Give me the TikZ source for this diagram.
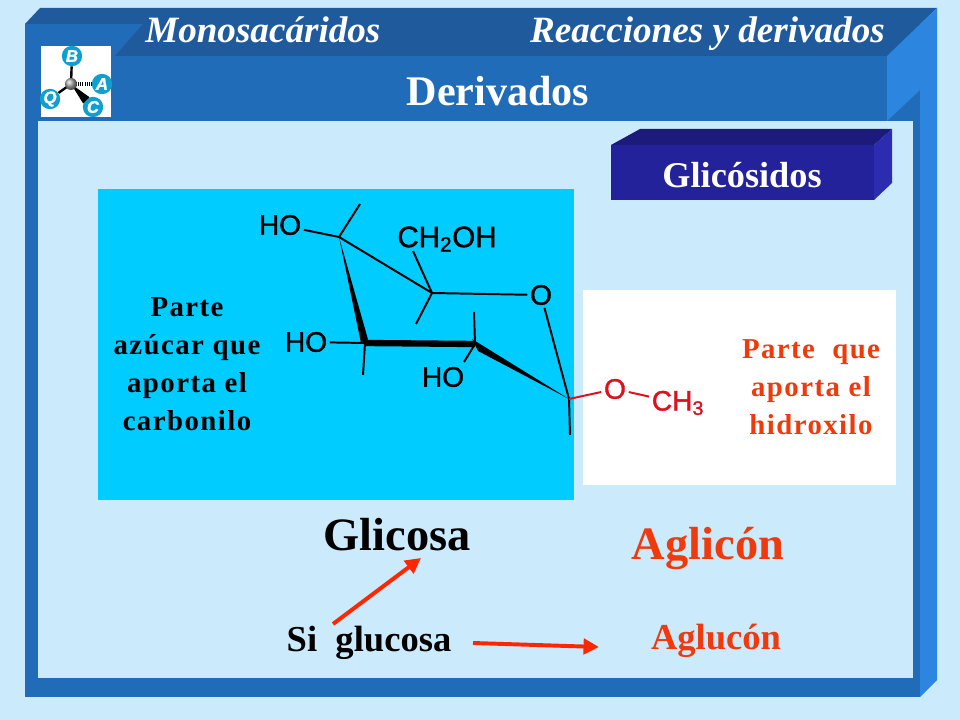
\documentclass[tikz,border=0pt]{standalone}
\usepackage{fontspec}
\setmainfont{Liberation Serif}
\newfontfamily\chemfont[FakeBold=1.3]{Liberation Sans}
\newfontfamily\notefont[LetterSpace=5]{Liberation Serif}
\usetikzlibrary{arrows.meta}
\definecolor{pagebg}{HTML}{CBEBFD}
\definecolor{frontblue}{HTML}{206CB8}
\definecolor{darkblue}{HTML}{1F5A9C}
\definecolor{liteblue}{HTML}{2C86E0}
\definecolor{boxfront}{HTML}{23229A}
\definecolor{boxtop}{HTML}{1C1A7A}
\definecolor{boxside}{HTML}{2C2CB0}
\definecolor{sugarbg}{HTML}{00CCFF}
\definecolor{ballblue}{HTML}{10A0D0}
\definecolor{redlabel}{HTML}{EE3A0C}
\definecolor{redchem}{HTML}{DD1020}
\tikzset{
  title/.style={font=\fontsize{26.4}{26.4}\selectfont\bfseries\itshape,text=white,inner sep=0pt},
  heading/.style={font=\fontsize{30}{30}\selectfont\bfseries,text=white,inner sep=0pt},
  note/.style={font=\fontsize{20.5}{27}\selectfont\notefont\bfseries,align=center,inner sep=0pt},
  big/.style={font=\fontsize{33}{33}\selectfont\bfseries,inner sep=0pt,anchor=base},
  mid/.style={font=\fontsize{26}{26}\selectfont\bfseries,inner sep=0pt,anchor=base},
  chem/.style={font=\fontsize{20}{20}\selectfont\chemfont,inner sep=0pt,outer sep=2pt},
  ball/.style={circle,fill=ballblue,minimum size=14.5pt,inner sep=0pt,text=white,font=\fontsize{12}{12}\selectfont\chemfont\bfseries\itshape},
  bond/.style={line width=1.4pt},
  redarrow/.style={draw=red!70!orange,line width=2.8pt,-{Triangle[length=11pt,width=11pt]}}
}
\begin{document}
\begin{tikzpicture}[x=0.025cm,y=-0.025cm]
\useasboundingbox (0,0) rectangle (960,720);
\fill[pagebg] (0,0) rectangle (960,720);

% frame
\fill[frontblue] (25,24) -- (920,24) -- (920,697) -- (25,697) -- cycle;
\fill[darkblue] (25,24) -- (40,8) -- (937,8) -- (887,56) -- (115,56) -- (143,24) -- cycle;
\fill[liteblue] (887,56) -- (937,8) -- (937,680) -- (920,697) -- (920,90) -- (887,121) -- cycle;
\fill[pagebg] (38,121) rectangle (913,678);

% logo
\fill[white] (41,46) rectangle (111,117);
\coordinate (centre) at (71,84);
\node[ball] (B) at (72,56) {B};
\node[ball] (A) at (102,84) {A};
\node[ball] (Q) at (50,99) {Q};
\node[ball] (C) at (93,107) {C};
\draw[line width=1.7pt] (centre) -- (B);
\draw[line width=1.7pt] (centre) -- (Q);
\fill (centre) -- (C.110) -- (C.160) -- cycle;
\draw[line width=3.5pt,dash pattern=on 0.8pt off 0.8pt] (centre) -- (A);
\shade[ball color=gray!70] (centre) circle (6);

% header
\node[title,anchor=base west] (mono) at (145,43) {Monosacáridos};
\node[title,anchor=base east] (reac) at (885,43) {Reacciones y derivados};
\node[heading,anchor=base] (deriv) at (498,106) {Derivados};

% box
\fill[boxfront] (611,145) rectangle (874,200);
\fill[boxtop] (611,145) -- (640,129) -- (892,129) -- (874,145) -- cycle;
\fill[boxside] (874,145) -- (892,129) -- (892,183) -- (874,200) -- cycle;
\node[heading,anchor=base,font=\fontsize{25.8}{25.8}\selectfont\bfseries] (glic) at (742,188) {Glicósidos};

% panels
\fill[sugarbg] (98,189) rectangle (574,500);
\fill[white] (583,290) rectangle (896,485);

% molecule
\coordinate (ca) at (339,237);
\coordinate (cb) at (432,293);
\coordinate (cc) at (365,343);
\coordinate (cd) at (475,344);
\coordinate (ce) at (569,399);
\node[chem] (ho1) at (280,225) {HO};
\node[chem,font=\fontsize{21}{21}\selectfont\chemfont] (ch2) at (447,239) {CH\textsubscript{2}OH};
\node[chem] (o1) at (541,295) {O};
\node[chem] (ho2) at (306,342) {HO};
\node[chem] (ho3) at (443,377) {HO};
\node[chem,text=redchem] (o2) at (615,389) {O};
\node[chem,text=redchem] (ch3) at (678,403) {CH\textsubscript{3}};
\draw[bond] (ho1) -- (ca);
\draw[bond] (ca) -- (360,204);
\draw[bond] (ca) -- (cb);
\draw[bond] (cb) -- (413,251);
\draw[bond] (cb) -- (416,324);
\draw[bond] (cb) -- (o1);
\draw[bond] (o1) -- (ce);
\draw[bond] (ce) -- (570,435);
\draw[bond] (ho2) -- (cc);
\draw[bond] (cc) -- (363,375);
\draw[bond] (cd) -- (474,312);
\draw[bond] (cd) -- (464,362);
\fill (ca) -- (361,343) -- (369,343) -- cycle;
\draw[line width=4.5pt] (cc) -- (cd);
\fill (472,339) -- (478,351) -- (ce) -- cycle;
\draw[redchem,bond] (ce) -- (o2);
\draw[redchem,bond] (o2) -- (ch3);

% labels
\node[note] (azucar) at (187,364) {Parte\\azúcar que\\aporta el\\carbonilo};
\node[note,text=redlabel] (agl) at (811,387) {Parte~ que\\aporta el\\hidroxilo};
\node[big] (glicosa) at (397,551) {Glicosa};
\node[big,text=redlabel] (aglicon) at (708,560) {Aglicón};
\node[mid] (siglu) at (369,651) {Si~ glucosa};
\node[mid,text=redlabel] (aglu) at (716,649) {Aglucón};
\draw[redarrow] (333,624) -- (421,558);
\draw[redarrow] (473,643) -- (599,647);
\end{tikzpicture}
\end{document}
